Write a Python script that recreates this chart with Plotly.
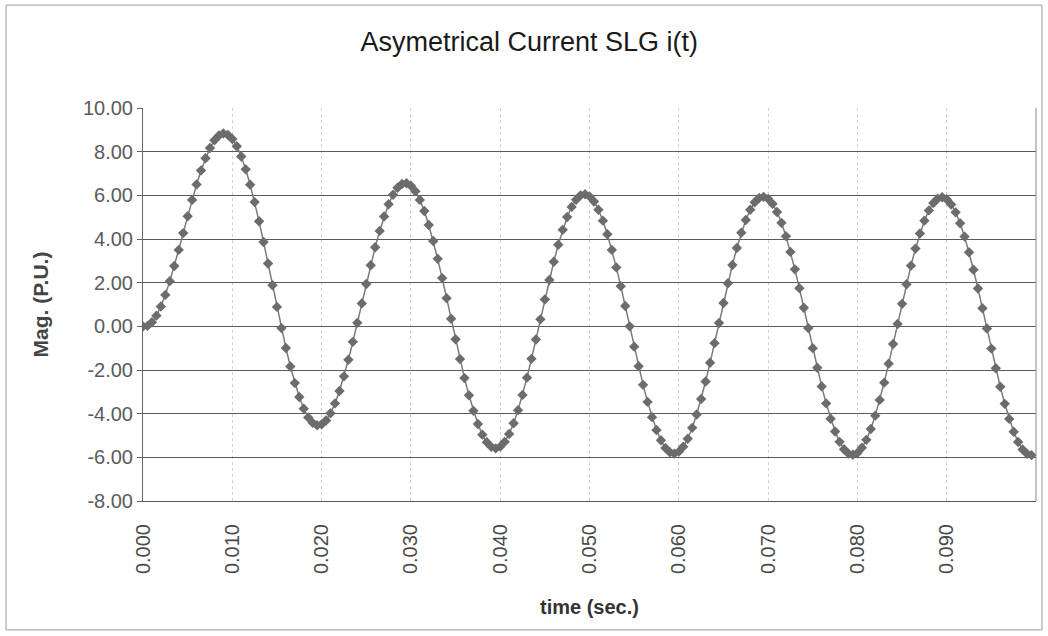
import plotly.graph_objects as go

# Sampled single-line-to-ground fault current, per unit, every 0.5 ms
current_pu = [
    0.00, 0.02, 0.19, 0.49, 0.91, 1.44, 2.07, 2.76, 3.50, 4.27,
    5.04, 5.79, 6.50, 7.14, 7.70, 8.17, 8.52, 8.74, 8.83, 8.77,
    8.58, 8.25, 7.78, 7.19, 6.49, 5.69, 4.81, 3.86, 2.88, 1.88,
    0.89, -0.08, -0.99, -1.84, -2.60, -3.24, -3.77, -4.17, -4.42, -4.53,
    -4.49, -4.31, -3.98, -3.53, -2.96, -2.29, -1.53, -0.71, 0.16, 1.05,
    1.94, 2.80, 3.62, 4.37, 5.03, 5.59, 6.03, 6.35, 6.52, 6.55,
    6.44, 6.19, 5.79, 5.28, 4.64, 3.91, 3.09, 2.21, 1.29, 0.35,
    -0.59, -1.50, -2.37, -3.16, -3.87, -4.47, -4.96, -5.31, -5.52, -5.59,
    -5.51, -5.29, -4.93, -4.44, -3.84, -3.14, -2.35, -1.49, -0.60, 0.32,
    1.23, 2.12, 2.96, 3.74, 4.42, 5.01, 5.47, 5.80, 6.00, 6.05,
    5.95, 5.72, 5.34, 4.84, 4.22, 3.50, 2.70, 1.84, 0.93, 0.00,
    -0.93, -1.83, -2.68, -3.46, -4.16, -4.75, -5.22, -5.57, -5.77, -5.83,
    -5.74, -5.51, -5.15, -4.65, -4.04, -3.33, -2.53, -1.67, -0.77, 0.15,
    1.07, 1.97, 2.81, 3.59, 4.29, 4.87, 5.34, 5.68, 5.88, 5.93,
    5.84, 5.61, 5.24, 4.74, 4.13, 3.41, 2.61, 1.75, 0.85, -0.08,
    -1.00, -1.90, -2.75, -3.53, -4.23, -4.82, -5.29, -5.63, -5.83, -5.88,
    -5.80, -5.56, -5.20, -4.70, -4.09, -3.37, -2.58, -1.71, -0.81, 0.11,
    1.03, 1.93, 2.78, 3.56, 4.25, 4.84, 5.31, 5.65, 5.85, 5.91,
    5.82, 5.58, 5.22, 4.72, 4.11, 3.39, 2.59, 1.73, 0.83, -0.10,
    -1.02, -1.92, -2.77, -3.55, -4.24, -4.83, -5.30, -5.64, -5.84, -5.90,
]
sample_step = 0.0005
time_s = [round(k * sample_step, 4) for k in range(len(current_pu))]

x_tick_vals = [0.00, 0.01, 0.02, 0.03, 0.04, 0.05, 0.06, 0.07, 0.08, 0.09]
x_tick_text = ["0.000", "0.010", "0.020", "0.030", "0.040",
               "0.050", "0.060", "0.070", "0.080", "0.090"]
y_tick_vals = [10, 8, 6, 4, 2, 0, -2, -4, -6, -8]
y_tick_text = ["10.00", "8.00", "6.00", "4.00", "2.00",
               "0.00", "-2.00", "-4.00", "-6.00", "-8.00"]

FONT = "Liberation Sans, Arial, sans-serif"

fig = go.Figure()
fig.add_trace(go.Scatter(
    x=time_s,
    y=current_pu,
    mode="lines+markers",
    line=dict(color="#7a7a7a", width=1.5),
    marker=dict(symbol="diamond", size=8, color="#6c6c6c",
                line=dict(width=0)),
    showlegend=False,
    hoverinfo="x+y",
))

fig.update_layout(
    width=1048,
    height=636,
    margin=dict(l=143, r=12, t=108, b=135),
    paper_bgcolor="white",
    plot_bgcolor="white",
    title=dict(
        text="Asymetrical Current SLG i(t)",
        x=0.505, xref="container", xanchor="center",
        y=0.934, yref="container", yanchor="middle",
        font=dict(family=FONT, size=27, color="#1a1a1a"),
    ),
    xaxis=dict(
        range=[0, 0.1],
        tickmode="array",
        tickvals=x_tick_vals,
        ticktext=x_tick_text,
        tickangle=-90,
        tickfont=dict(family=FONT, size=20, color="#4a4a4a"),
        showgrid=True,
        gridcolor="#d2d2d2",
        griddash="dot",
        gridwidth=1,
        showline=True,
        linecolor="#555555",
        linewidth=1,
        mirror=False,
        zeroline=False,
        ticks="outside",
        ticklen=14,
        tickcolor="rgba(0,0,0,0)",
        title=dict(text="<b>time (sec.)</b>", standoff=26,
                   font=dict(family=FONT, size=20, color="#333333")),
    ),
    yaxis=dict(
        range=[-8, 10],
        tickmode="array",
        tickvals=y_tick_vals,
        ticktext=y_tick_text,
        tickfont=dict(family=FONT, size=20, color="#5a5a5a"),
        showgrid=True,
        gridcolor="#5a5a5a",
        gridwidth=1,
        showline=True,
        linecolor="#666666",
        linewidth=1,
        zeroline=False,
        ticks="outside",
        ticklen=5,
        tickcolor="#666666",
        title=dict(text="<b>Mag. (P.U.)</b>", standoff=28,
                   font=dict(family=FONT, size=21, color="#444444")),
    ),
    shapes=[
        # right edge of the plotting area
        dict(type="line", xref="paper", yref="paper",
             x0=1, x1=1, y0=0, y1=1,
             line=dict(color="#888888", width=1)),
        # thin frame round the whole chart
        dict(type="rect", xref="paper", yref="paper",
             x0=-0.1534, x1=1.0067, y0=-0.328, y1=1.262,
             line=dict(color="#9a9a9a", width=1)),
    ],
)

fig.write_html("out.html")
